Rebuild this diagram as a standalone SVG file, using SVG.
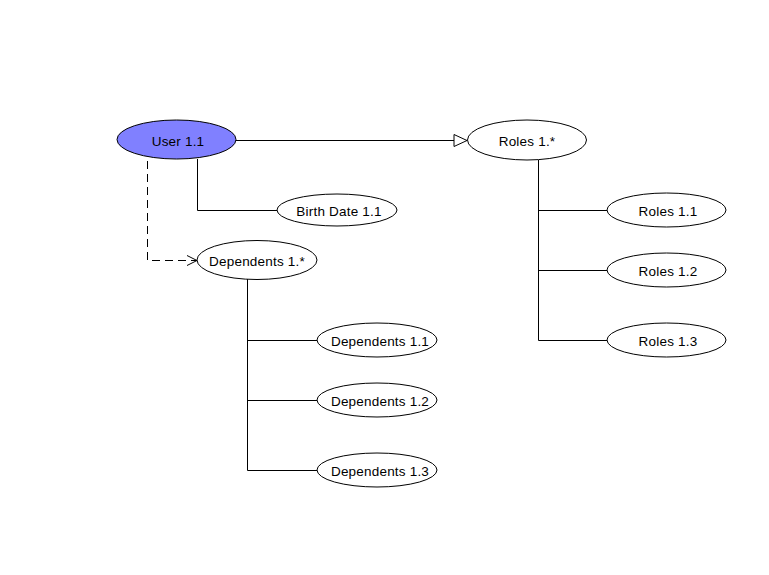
<svg xmlns="http://www.w3.org/2000/svg" width="769" height="575" viewBox="0 0 769 575">
<style>
.node ellipse{fill:#ffffff;stroke:#000000;stroke-width:1}
.node.main ellipse{fill:#8080ff}
.node text{font-family:"Liberation Sans",Arial,sans-serif;font-size:13.5px;letter-spacing:0.2px;fill:#000000;text-anchor:middle;dominant-baseline:central}
.conn{fill:none;stroke:#000000;stroke-width:1}
.dash{stroke-dasharray:8,5}
</style>
<defs>
<marker id="tri" markerWidth="16" markerHeight="16" refX="14" refY="7" orient="auto" markerUnits="userSpaceOnUse">
<path d="M1,1 L14,7 L1,13 Z" fill="#ffffff" stroke="#000000" stroke-width="1"/>
</marker>
<marker id="open" markerWidth="14" markerHeight="14" refX="11" refY="6" orient="auto" markerUnits="userSpaceOnUse">
<path d="M1,1 L11,6 L1,11" fill="none" stroke="#000000" stroke-width="1"/>
</marker>
</defs>
<rect width="769" height="575" fill="#ffffff"/>
<g id="connectors">
<path class="conn" d="M236,140.5 H467" marker-end="url(#tri)"/>
<path class="conn" d="M197.5,159 V210.5 H277"/>
<path class="conn dash" d="M147.5,148 V260.5 H197" marker-end="url(#open)"/>
<path class="conn" d="M538.5,160 V340.5 H607"/>
<path class="conn" d="M538.5,210.5 H607"/>
<path class="conn" d="M538.5,270.5 H607"/>
<path class="conn" d="M247.5,279 V470.5 H317"/>
<path class="conn" d="M247.5,340.5 H317"/>
<path class="conn" d="M247.5,400.5 H317"/>
</g>
<g id="user" class="node main"><ellipse cx="176.5" cy="139.5" rx="59.5" ry="19.5"/><text x="178" y="141">User 1.1</text></g>
<g id="roles" class="node"><ellipse cx="527" cy="140" rx="59.5" ry="20"/><text x="527" y="141">Roles 1.*</text></g>
<g id="birthdate" class="node"><ellipse cx="337" cy="210" rx="60" ry="16"/><text x="339" y="211">Birth Date 1.1</text></g>
<g id="dependents" class="node"><ellipse cx="257" cy="260" rx="60" ry="19.5"/><text x="257" y="261">Dependents 1.*</text></g>
<g id="roles11" class="node"><ellipse cx="666.5" cy="210" rx="59.5" ry="17"/><text x="668" y="211">Roles 1.1</text></g>
<g id="roles12" class="node"><ellipse cx="666.5" cy="270" rx="59.5" ry="17"/><text x="668" y="271">Roles 1.2</text></g>
<g id="roles13" class="node"><ellipse cx="666.5" cy="340" rx="59.5" ry="17"/><text x="668" y="341">Roles 1.3</text></g>
<g id="dep11" class="node"><ellipse cx="377" cy="340" rx="60" ry="17"/><text x="380" y="341">Dependents 1.1</text></g>
<g id="dep12" class="node"><ellipse cx="377" cy="400" rx="60" ry="17"/><text x="380" y="401">Dependents 1.2</text></g>
<g id="dep13" class="node"><ellipse cx="377" cy="470" rx="60" ry="17"/><text x="380" y="471">Dependents 1.3</text></g>
</svg>
